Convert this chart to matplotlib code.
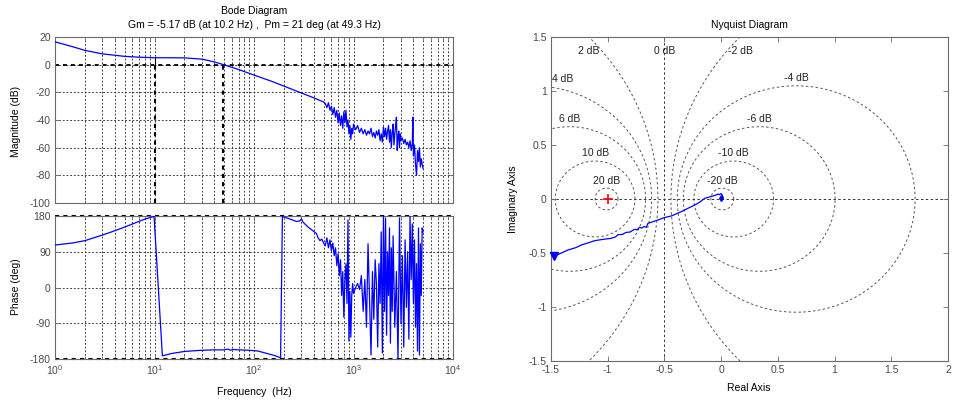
import numpy as np
import matplotlib
matplotlib.use('Agg')
import matplotlib.pyplot as plt
from matplotlib.ticker import LogLocator, NullFormatter, FixedLocator, LogFormatterSciNotation

plt.rcParams['font.family'] = ['Liberation Sans', 'DejaVu Sans']
plt.rcParams['axes.unicode_minus'] = False

# ---------------- data ----------------
mag_freq = [1, 1.5, 2, 3, 4, 5, 7, 10, 15, 20, 30, 40, 49.3, 70, 100, 150, 200, 300, 400, 500,
            520, 540, 560, 580, 600, 620, 640, 660, 680, 700, 720, 740, 760, 780, 800, 820, 840,
            860, 880, 900, 920, 940, 960, 980, 1000, 1050, 1100, 1150, 1200, 1250, 1300, 1350,
            1400, 1450, 1500, 1550, 1600, 1650, 1700, 1750, 1800, 1850, 1900, 1950, 2000, 2050,
            2100, 2150, 2200, 2250, 2300, 2350, 2400, 2450, 2500, 2550, 2600, 2650, 2700, 2750,
            2800, 2850, 2900, 2950, 3000, 3100, 3200, 3300, 3400, 3500, 3600, 3700, 3800, 3900,
            3950, 4000, 4100, 4200, 4300, 4400, 4500, 4600, 4700, 4800, 4900, 5000]
mag_db = [16.5, 13, 10.3, 7.8, 6.8, 6.0, 5.4, 5.0, 5.0, 4.9, 4.0, 2.0, 0, -3.5, -7.5, -12, -15.5, -20.5, -24, -27,
          -28, -31, -27.5, -33, -30, -36, -31, -38, -33, -42, -35, -44, -37, -46, -34, -42, -33,
          -45, -40, -50, -44, -54, -46, -50, -43, -47, -44, -49, -46, -50, -47, -51,
          -48, -50, -46, -52, -49, -53, -48, -51, -47, -55, -50, -56, -45, -52,
          -46, -54, -48, -44, -56, -47, -60, -49, -43, -58, -50, -44, -38, -62,
          -52, -48, -60, -50, -55, -53, -57, -54, -58, -56, -60, -55, -62, -57,
          -38, -66, -58, -72, -80, -62, -70, -60, -74, -68, -72, -75]

phase_freq = [1, 1.5, 2, 3, 4, 5, 6.6, 8, 9.9, 12, 15, 20, 30, 40, 50, 55, 58, 61, 70, 90, 110, 130,
              160, 185, 193, 220, 269, 290, 300, 310, 350, 424, 440, 460, 480,
              500, 520, 540, 560, 580, 600, 620, 640, 660, 680, 700, 720, 740, 760, 780, 800, 820,
              840, 860, 880, 900, 920, 940, 960, 980, 1000, 1050, 1100, 1150, 1200, 1250, 1300,
              1350, 1400, 1450, 1500, 1550, 1600, 1650, 1700, 1750, 1800, 1850, 1900, 1950, 2000,
              2050, 2100, 2150, 2200, 2250, 2300, 2350, 2400, 2450, 2500, 2600, 2700, 2800, 2900,
              3000, 3100, 3200, 3300, 3400, 3500, 3600, 3700, 3800, 3900, 4000, 4100, 4200, 4300,
              4400, 4500, 4600, 4700, 4800, 4900, 5000]
phase_deg = [107, 112, 118, 132, 143, 152, 164, 172, 179, -172, -166, -161, -158, -157, -157, -155, -158, -156, -157, -158, -160, -165,
             -171, -177, 179, 174, 166, 168, 173, 165, 152, 136, 125, 118, 122,
             112, 105, 125, 100, 120, 92, 112, 80, 100, 55, 85, 30, 70, -20, 40, -75, 20,
             60, -40, 170, -135, -10, -125, -20, 10, -15, 0, 10, -5, 30, -60, 20,
             -100, 110, -30, -170, 40, -80, 70, 10, -150, 60, -40, 140, -165, 180,
             -60, 175, -120, 90, -20, 150, -140, 100, -60, 130, -100, 40, -180, 175,
             -90, 80, -150, 120, -50, 90, -130, 180, 20, 160, -40, 120, -100, 60,
             -160, 150, -170, 110, -20, 150, 140]

nyq_re = [-1.47, -1.43, -1.35, -1.28, -1.233, -1.17, -1.115, -1.05, -0.968, -0.93, -0.909, -0.87,
          -0.84, -0.80, -0.78, -0.762, -0.74, -0.72, -0.70, -0.68, -0.66, -0.645, -0.60, -0.556,
          -0.50, -0.439, -0.39, -0.351, -0.30, -0.233, -0.19, -0.145, -0.10, -0.071, -0.05,
          -0.027, -0.015, 0.0, 0.01, 0.017, 0.005, 0.012, 0.002]
nyq_im = [-0.525, -0.51, -0.472, -0.45, -0.426, -0.405, -0.386, -0.375, -0.364, -0.35, -0.33, -0.328,
          -0.31, -0.305, -0.29, -0.281, -0.285, -0.262, -0.27, -0.255, -0.262, -0.225, -0.21, -0.194,
          -0.172, -0.157, -0.135, -0.117, -0.09, -0.056, -0.03, 0.006, 0.02, 0.028, 0.035,
          0.046, 0.04, 0.05, 0.035, 0.016, 0.01, 0.005, 0.006]

m_circle_db = [20, 10, 6, 4, 2, 0, -2, -4, -6, -10, -20]

gm_freq, gm_db = 10.2, -5.17
pm_freq, pm_deg = 49.3, 21

title_bode = "Bode Diagram"
title_margin = "Gm = -5.17 dB (at 10.2 Hz) ,  Pm = 21 deg (at 49.3 Hz)"

# ---------------- figure ----------------
W, H = 960, 404
fig = plt.figure(figsize=(W / 100, H / 100), dpi=100)

def fx(px):
    return px / W

def fy(py):
    return 1 - py / H

ax_m = fig.add_axes([fx(55), fy(203), (453 - 55) / W, (203 - 37) / H])
ax_p = fig.add_axes([fx(55), fy(359), (453 - 55) / W, (359 - 216) / H])
ax_n = fig.add_axes([fx(551), fy(361), (948 - 551) / W, (361 - 37) / H])

FS = 7.5
TICKC = '#4a4a4a'
SPC = '#6a6a6a'
BLUE = '#0000ff'
grid_ls = (0, (2.2, 2.2))

def style(ax):
    ax.tick_params(which='both', direction='in', top=True, right=True,
                   labelsize=FS, labelcolor=TICKC, color=SPC, length=3.5, width=0.6, pad=3)
    ax.tick_params(which='minor', length=2)
    for s in ax.spines.values():
        s.set_color(SPC)
        s.set_linewidth(0.8)

for ax in (ax_m, ax_p):
    ax.set_xscale('log')
    ax.set_xlim(1, 1e4)
    ax.xaxis.set_major_locator(LogLocator(base=10, numticks=10))
    ax.xaxis.set_minor_locator(LogLocator(base=10, subs=np.arange(2, 10), numticks=50))
    ax.xaxis.set_minor_formatter(NullFormatter())
    ax.grid(True, which='major', axis='both', linestyle=grid_ls, color='#222222', linewidth=0.6)
    ax.grid(True, which='minor', axis='x', linestyle=grid_ls, color='#222222', linewidth=0.6)
    style(ax)

# magnitude
ax_m.plot(mag_freq, mag_db, color=BLUE, lw=0.9, zorder=3)
ax_m.set_ylim(-100, 20)
ax_m.yaxis.set_major_locator(FixedLocator([20, 0, -20, -40, -60, -80, -100]))
ax_m.xaxis.set_major_formatter(NullFormatter())
ax_m.axhline(0, color='k', lw=1.3, ls=(0, (2.2, 2.2)), zorder=2)
ax_m.plot([gm_freq, gm_freq], [-100, 0], color='k', lw=1.5, ls=(0, (2, 2)), zorder=2)
ax_m.plot([pm_freq, pm_freq], [-100, 0], color='k', lw=1.5, ls=(0, (2, 2)), zorder=2)
ax_m.plot([gm_freq, gm_freq], [0, -gm_db], color='k', lw=0.8, zorder=2)

# phase
ax_p.plot(phase_freq, phase_deg, color=BLUE, lw=0.9, zorder=3)
ax_p.set_ylim(-180, 180)
ax_p.yaxis.set_major_locator(FixedLocator([180, 90, 0, -90, -180]))
ax_p.xaxis.set_major_formatter(LogFormatterSciNotation())
ax_p.axhline(180, color='k', lw=1.5, ls=(0, (2, 2)), zorder=2, clip_on=False)
ax_p.axhline(-180, color='k', lw=1.5, ls=(0, (2, 2)), zorder=2, clip_on=False)

fig.text(fx(254), fy(11), title_bode, ha='center', va='center', fontsize=FS)
fig.text(fx(254), fy(25), title_margin, ha='center', va='center', fontsize=FS)
fig.text(fx(254), fy(392), "Frequency  (Hz)", ha='center', va='center', fontsize=FS)
fig.text(fx(16), fy(121), "Magnitude (dB)", ha='center', va='center', fontsize=FS, rotation=90)
fig.text(fx(16), fy(287), "Phase (deg)", ha='center', va='center', fontsize=FS, rotation=90)

# ---------------- Nyquist ----------------
xmin, xmax, ymin, ymax = -1.5, 2.0, -1.5, 1.5
ax_n.set_xlim(xmin, xmax)
ax_n.set_ylim(ymin, ymax)
ax_n.xaxis.set_major_locator(FixedLocator([-1.5, -1, -0.5, 0, 0.5, 1, 1.5, 2]))
ax_n.yaxis.set_major_locator(FixedLocator([-1.5, -1, -0.5, 0, 0.5, 1, 1.5]))
ax_n.set_xticklabels(['-1.5', '-1', '-0.5', '0', '0.5', '1', '1.5', '2'])
ax_n.set_yticklabels(['-1.5', '-1', '-0.5', '0', '0.5', '1', '1.5'])
style(ax_n)

t = np.linspace(0, 2 * np.pi, 720)
for db in m_circle_db:
    if db == 0:
        ax_n.plot([-0.5, -0.5], [ymin, ymax], color='#333333', lw=0.7, ls=(0, (2.5, 2.5)), zorder=1)
        lx, ly = -0.5, 1.37
    else:
        M = 10 ** (db / 20)
        c = -M ** 2 / (M ** 2 - 1)
        r = M / abs(M ** 2 - 1)
        ax_n.plot(c + r * np.cos(t), r * np.sin(t), color='#555555', lw=0.7, ls=(0, (2.5, 2.5)), zorder=1)
        if r > ymax:
            dx = np.sqrt(r ** 2 - ymax ** 2)
            lx = c + dx if c < 0 else c - dx
            ly = 1.37
        elif c < xmin:
            lx = xmin + 0.1
            ly = np.sqrt(r ** 2 - (xmin - c) ** 2) + 0.075
        else:
            lx, ly = c, r + 0.07
    ax_n.text(lx, ly, f"{db} dB", ha='center', va='center', fontsize=FS, color='#222222', zorder=2)

ax_n.axhline(0, color='#333333', lw=0.7, ls=(0, (2.5, 2.5)), zorder=1)
ax_n.plot(nyq_re, nyq_im, color=BLUE, lw=0.9, zorder=3)
ax_n.plot(nyq_re[0], nyq_im[0], marker='v', color=BLUE, ms=6, zorder=4, clip_on=False)
ax_n.plot(nyq_re[-1], nyq_im[-1], marker='d', color=BLUE, ms=3, zorder=4)
ax_n.plot(-1, 0, marker='+', color='red', ms=7, mew=1.2, zorder=4)

fig.text(fx(749), fy(25), "Nyquist Diagram", ha='center', va='center', fontsize=FS)
fig.text(fx(749), fy(388), "Real Axis", ha='center', va='center', fontsize=FS)
fig.text(fx(513), fy(199), "Imaginary Axis", ha='center', va='center', fontsize=FS, rotation=90)

fig.savefig('out.png', dpi=100)
